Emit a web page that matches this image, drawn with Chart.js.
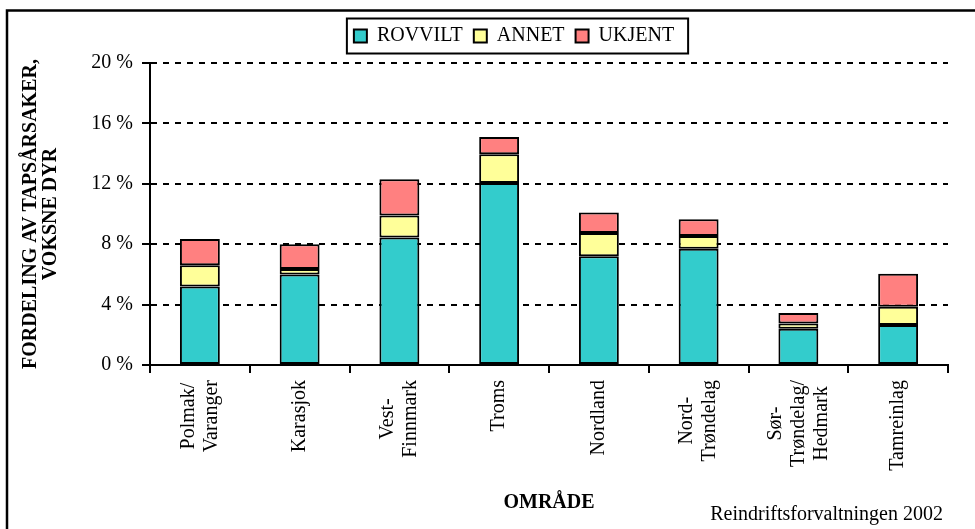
<!DOCTYPE html>
<html>
<head>
<meta charset="utf-8">
<script src="https://cdn.jsdelivr.net/npm/chart.js@4.4.1/dist/chart.umd.min.js"></script>
<style>
  html, body { margin: 0; padding: 0; background: #fff; }
</style>
</head>
<body>
<canvas id="chart" width="975" height="529"></canvas>
<script>
// areas (each entry = lines of the rotated label)
const AREAS = [
    ['Polmak/', 'Varanger'],
    ['Karasjok'],
    ['Vest-', 'Finnmark'],
    ['Troms'],
    ['Nordland'],
    ['Nord-', 'Trøndelag'],
    ['Sør-', 'Trøndelag/', 'Hedmark'],
    ['Tamreinlag']
];

// share of losses, adult animals (%)
const ROVVILT = [5.2, 6.0, 8.45, 12.05, 7.2, 7.7, 2.4, 2.65];
const ANNET   = [1.4, 0.35, 1.45, 1.9, 1.55, 0.85, 0.35, 1.2];
const UKJENT  = [1.75, 1.65, 2.4, 1.15, 1.35, 1.1, 0.7, 2.2];

const SERIES_NAMES = ['ROVVILT', 'ANNET', 'UKJENT'];
const Y_TITLE = ['FORDELING AV TAPSÅRSAKER,', 'VOKSNE DYR'];
const X_TITLE = 'OMRÅDE';
const SOURCE = 'Reindriftsforvaltningen 2002';

const SERIF = '"Liberation Serif", "Times New Roman", serif';
const LEGEND_CENTER = 514;
const LEGEND_LIFT = 7;

Chart.defaults.font.family = SERIF;
Chart.defaults.color = '#000';

// frame, legend box, rotated x labels and source line
const pagePlugin = {
    id: 'page',
    beforeDraw(chart) {
        const ctx = chart.ctx;
        ctx.save();
        ctx.fillStyle = '#fff';
        ctx.fillRect(0, 0, chart.width, chart.height);
        ctx.strokeStyle = '#000';
        ctx.lineWidth = 2.5;
        ctx.strokeRect(7, 10.5, chart.width + 20, chart.height + 20);
        ctx.restore();
    },
    afterLayout(chart) {
        // move the legend so it sits where the original has it
        const lg = chart.legend;
        const dx = LEGEND_CENTER - (lg.left + lg.right) / 2;
        lg.left += dx;
        lg.right += dx;
        lg.top -= LEGEND_LIFT;
        lg.bottom -= LEGEND_LIFT;
    },
    afterDraw(chart) {
        const ctx = chart.ctx;
        ctx.save();

        // legend frame
        const boxes = chart.legend.legendHitBoxes;
        if (boxes && boxes.length) {
            const first = boxes[0];
            const last = boxes[boxes.length - 1];
            const cy = first.top + first.height / 2;
            const left = first.left - 7;
            const right = last.left + last.width + 14;
            ctx.strokeStyle = '#000';
            ctx.lineWidth = 2;
            ctx.strokeRect(left, cy - 17.5, right - left, 35);
        }

        // category labels, rotated, lines centred on the category
        const xs = chart.scales.x;
        ctx.font = '20px ' + SERIF;
        ctx.fillStyle = '#000';
        ctx.textAlign = 'center';
        ctx.textBaseline = 'middle';
        AREAS.forEach((lines, i) => {
            const x = xs.getPixelForValue(i);
            const w = Math.max(...lines.map(l => ctx.measureText(l).width));
            const cy = xs.top + 15 + w / 2;
            lines.forEach((line, j) => {
                ctx.save();
                ctx.translate(x + (j - (lines.length - 1) / 2) * 23, cy);
                ctx.rotate(-Math.PI / 2);
                ctx.fillText(line, 0, 0);
                ctx.restore();
            });
        });

        // source
        ctx.textAlign = 'right';
        ctx.fillText(SOURCE, 943, 515);
        ctx.restore();
    }
};

function makeSet(label, data, color) {
    return {
        label: label,
        data: data,
        backgroundColor: color,
        borderColor: '#000',
        borderWidth: 2,
        borderSkipped: false,
        barPercentage: 0.4,
        categoryPercentage: 1.0
    };
}

const ctx = document.getElementById('chart').getContext('2d');

const chart = new Chart(ctx, {
    type: 'bar',
    data: {
        labels: AREAS.map(a => a.join(' ')),
        datasets: [
            makeSet(SERIES_NAMES[0], ROVVILT, '#33CCCC'),
            makeSet(SERIES_NAMES[1], ANNET, '#FFFF99'),
            makeSet(SERIES_NAMES[2], UKJENT, '#FF8080')
        ]
    },
    options: {
        responsive: false,
        devicePixelRatio: 1,
        animation: false,
        layout: {
            padding: { top: 22, right: 27, bottom: 0, left: 0 }
        },
        plugins: {
            legend: {
                position: 'top',
                labels: {
                    font: { family: SERIF, size: 20 },
                    color: '#000',
                    boxWidth: 13,
                    boxHeight: 13,
                    padding: 11
                }
            },
            tooltip: { enabled: false }
        },
        scales: {
            x: {
                stacked: true,
                offset: true,
                grid: {
                    offset: true,
                    drawOnChartArea: false,
                    color: '#000',
                    lineWidth: 2,
                    tickLength: 8
                },
                border: { color: '#000', width: 2 },
                ticks: { display: false },
                title: {
                    display: true,
                    text: X_TITLE,
                    color: '#000',
                    font: { family: SERIF, size: 20, weight: 'bold', lineHeight: 1 },
                    padding: { top: 0, bottom: 16 }
                },
                afterFit(scale) { scale.height = 164; }
            },
            y: {
                stacked: true,
                min: 0,
                max: 20,
                ticks: {
                    stepSize: 4,
                    callback: v => v + ' %',
                    color: '#000',
                    font: { family: SERIF, size: 20 },
                    padding: 9
                },
                grid: {
                    color: '#000',
                    lineWidth: 2,
                    tickLength: 8,
                    tickBorderDash: []
                },
                border: { color: '#000', width: 2, dash: [6, 6] },
                title: {
                    display: true,
                    text: Y_TITLE,
                    color: '#000',
                    font: { family: SERIF, size: 20, weight: 'bold', lineHeight: 1 },
                    padding: { top: 21, bottom: 0 }
                },
                afterFit(scale) { scale.width = 150; }
            }
        }
    },
    plugins: [pagePlugin]
});
</script>
</body>
</html>
